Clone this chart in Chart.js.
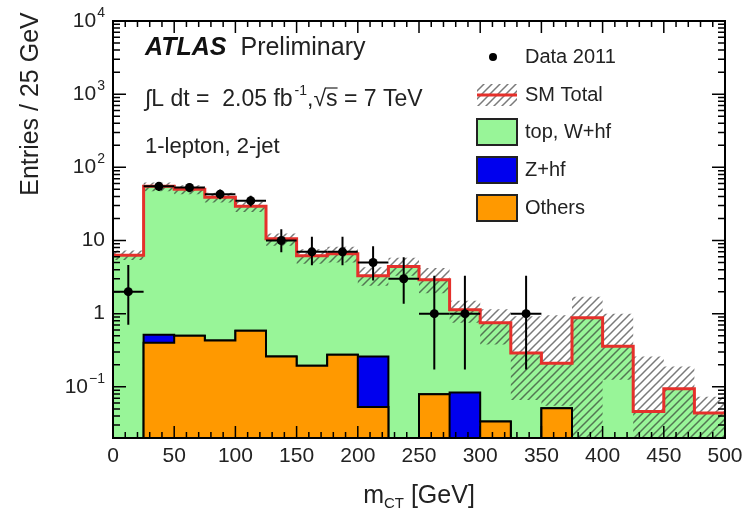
<!DOCTYPE html>
<html lang="en">
<head>
<meta charset="UTF-8">
<title>mCT distribution, 1-lepton 2-jet</title>
<script src="https://cdn.jsdelivr.net/npm/chart.js@4.4.0/dist/chart.umd.min.js"></script>
<style>
  html, body { margin: 0; padding: 0; background: #fff; }
</style>
</head>
<body>
<canvas id="chart" width="748" height="508"></canvas>
<script>
// lower edges of the 25 GeV bins
const binEdges = [0, 25, 50, 75, 100, 125, 150, 175, 200, 225, 250, 275, 300, 325, 350, 375, 400, 425, 450, 475];
const binWidth = 25;

// background components (events per bin), stacked others -> Z+hf -> top,W+hf
const others = [0, 0.40, 0.50, 0.43, 0.585, 0.26, 0.194, 0.274, 0.053, 0, 0.079, 0, 0.0335, 0, 0.051, 0, 0, 0, 0, 0];
const zHf    = [0, 0.115, 0, 0, 0, 0, 0, 0, 0.207, 0, 0, 0.084, 0, 0, 0, 0, 0, 0, 0, 0];
const topW   = [6.3, 54.5, 49.5, 38.6, 28.9, 10.3, 6.0, 6.3, 3.05, 4.4, 2.82, 1.05, 0.72, 0.29, 0.16, 0.88, 0.36, 0.046, 0.094, 0.044];

// SM total uncertainty band
const bandHigh = [7.3, 62, 57, 45, 34, 12.5, 7.6, 8.2, 4.3, 5.8, 4.2, 1.5, 1.15, 0.92, 0.95, 1.7, 1.0, 0.26, 0.19, 0.073];
const bandLow  = [5.4, 47, 43, 33, 24.5, 8.5, 4.8, 5.0, 2.4, 3.3, 1.9, 0.75, 0.38, 0.066, 0.055, 0, 0.125, 0, 0, 0];

// data 2011 with asymmetric errors
const data2011 = [2, 55, 53, 43, 35, 10, 7, 7, 5, 3, 1, 1, 0, 1, 0, 0, 0, 0, 0, 0];
const errLow   = [0.708, 47.6, 45.8, 36.5, 29.1, 6.89, 4.58, 4.58, 2.84, 1.37, 0.173, 0.173, 0, 0.173, 0, 0, 0, 0, 0, 0];
const errHigh  = [4.64, 62.4, 60.3, 49.6, 41.0, 14.3, 11.3, 11.3, 8.38, 5.92, 3.30, 3.30, 0, 3.30, 0, 0, 0, 0, 0, 0];

const xLabels = [0, 50, 100, 150, 200, 250, 300, 350, 400, 450, 500];
const xMinorStep = 10;
const yDecades = [-1, 0, 1, 2, 3, 4];

const X_MAX = 500;
const Y_MIN = 0.02;
const Y_MAX = 1e4;

const FONT = '"Liberation Sans", Arial, Helvetica, sans-serif';
const TXT = '#222';

const stackOthers = others.slice();
const stackZ = others.map((v, i) => v + zHf[i]);
const stackTotal = stackZ.map((v, i) => v + topW[i]);

// histogram outline as stepped points on the bin edges
function steps(vals) {
  const pts = binEdges.map((x, i) => ({ x: x, y: vals[i] > 0 ? vals[i] : Y_MIN }));
  pts.push({ x: X_MAX, y: pts[pts.length - 1].y });
  return pts;
}

function hatchPattern() {
  const c = document.createElement('canvas');
  c.width = 8; c.height = 8;
  const g = c.getContext('2d');
  g.strokeStyle = 'rgba(40,40,40,0.62)';
  g.lineWidth = 1.5;
  g.beginPath();
  g.moveTo(-1, 9); g.lineTo(9, -1);
  g.moveTo(-1, 1); g.lineTo(1, -1);
  g.moveTo(7, 9); g.lineTo(9, 7);
  g.stroke();
  return g.createPattern(c, 'repeat');
}
const hatch = hatchPattern();

const dataPoints = [];
data2011.forEach((n, i) => {
  if (n > 0) dataPoints.push({ x: binEdges[i] + binWidth / 2, y: n });
});

const GREEN = '#98f598';
const BLUE = '#0000ee';
const ORANGE = '#ff9900';
const RED = '#e5302b';

const decor = {
  id: 'decor',
  afterDatasetsDraw(chart) {
    const ctx = chart.ctx;
    const xs = chart.scales.x, ys = chart.scales.y;
    ctx.save();
    // data error bars
    ctx.strokeStyle = '#000';
    ctx.lineWidth = 2;
    data2011.forEach((n, i) => {
      if (!n) return;
      const cx = xs.getPixelForValue(binEdges[i] + binWidth / 2);
      const cy = ys.getPixelForValue(n);
      ctx.beginPath();
      ctx.moveTo(xs.getPixelForValue(binEdges[i]), cy);
      ctx.lineTo(xs.getPixelForValue(binEdges[i] + binWidth), cy);
      ctx.moveTo(cx, ys.getPixelForValue(errHigh[i]));
      ctx.lineTo(cx, ys.getPixelForValue(errLow[i]));
      ctx.stroke();
    });
    ctx.restore();
  },
  afterDraw(chart) {
    const ctx = chart.ctx, a = chart.chartArea;
    const xs = chart.scales.x, ys = chart.scales.y;
    ctx.save();

    // frame with inward ticks on all four sides
    ctx.strokeStyle = '#000';
    ctx.lineWidth = 2;
    ctx.strokeRect(a.left, a.top, a.right - a.left, a.bottom - a.top);
    ctx.lineWidth = 1.5;
    ctx.beginPath();
    for (let v = 0; v <= X_MAX; v += xMinorStep) {
      const px = xs.getPixelForValue(v);
      const len = xLabels.includes(v) ? 12 : 6;
      ctx.moveTo(px, a.bottom); ctx.lineTo(px, a.bottom - len);
      ctx.moveTo(px, a.top); ctx.lineTo(px, a.top + len);
    }
    for (let d = -2; d <= 4; d++) {
      for (let k = 1; k <= 9; k++) {
        const v = k * Math.pow(10, d);
        if (v < Y_MIN || v > Y_MAX) continue;
        const py = ys.getPixelForValue(v);
        const len = k === 1 ? 13 : 7;
        ctx.moveTo(a.left, py); ctx.lineTo(a.left + len, py);
        ctx.moveTo(a.right, py); ctx.lineTo(a.right - len, py);
      }
    }
    ctx.stroke();

    // x tick labels
    ctx.fillStyle = TXT;
    ctx.font = `21px ${FONT}`;
    ctx.textAlign = 'center';
    ctx.textBaseline = 'middle';
    xLabels.forEach(v => ctx.fillText(String(v), xs.getPixelForValue(v), a.bottom + 18));

    // y tick labels with superscript exponents
    yDecades.forEach(d => {
      const py = ys.getPixelForValue(Math.pow(10, d));
      const right = 105;
      if (d === 0 || d === 1) {
        ctx.font = `21px ${FONT}`;
        ctx.textAlign = 'right';
        ctx.fillText(d === 0 ? '1' : '10', right, py);
      } else {
        const sup = String(d).replace('-', '\u2212');
        ctx.font = `14px ${FONT}`;
        const sw = ctx.measureText(sup).width;
        ctx.textAlign = 'left';
        ctx.fillText(sup, right - sw, py - 8);
        ctx.font = `21px ${FONT}`;
        ctx.textAlign = 'right';
        ctx.fillText('10', right - sw - 1, py);
      }
    });

    // axis titles
    ctx.font = `25px ${FONT}`;
    ctx.textBaseline = 'alphabetic';
    ctx.save();
    ctx.translate(38, 104);
    ctx.rotate(-Math.PI / 2);
    ctx.textAlign = 'center';
    ctx.fillText('Entries / 25 GeV', 0, 0);
    ctx.restore();

    ctx.textAlign = 'left';
    ctx.font = `25px ${FONT}`;
    const wm = ctx.measureText('m').width;
    const wg = ctx.measureText(' [GeV]').width;
    ctx.font = `15px ${FONT}`;
    const wct = ctx.measureText('CT').width;
    let tx = (a.left + a.right) / 2 - (wm + wct + wg) / 2;
    const ty = 503;
    ctx.font = `25px ${FONT}`;
    ctx.fillText('m', tx, ty); tx += wm;
    ctx.font = `15px ${FONT}`;
    ctx.fillText('CT', tx, ty + 5); tx += wct;
    ctx.font = `25px ${FONT}`;
    ctx.fillText(' [GeV]', tx, ty);

    // ATLAS label and run conditions
    ctx.textBaseline = 'middle';
    ctx.font = `italic bold 25px ${FONT}`;
    ctx.fillStyle = '#111';
    ctx.fillText('ATLAS', 145, 48);
    const wa = ctx.measureText('ATLAS').width;
    ctx.fillStyle = TXT;
    ctx.font = `25px ${FONT}`;
    ctx.fillText('Preliminary', 145 + wa + 14, 48);

    let lx = 145;
    const ly = 100;
    ctx.font = `23px ${FONT}`;
    const p1 = '\u222BL dt =  2.05 fb';
    ctx.fillText(p1, lx, ly); lx += ctx.measureText(p1).width + 2;
    ctx.font = `14px ${FONT}`;
    ctx.fillText('-1', lx, ly - 9); lx += ctx.measureText('-1').width;
    ctx.font = `23px ${FONT}`;
    ctx.fillText(',', lx, ly); lx += ctx.measureText(',').width;
    ctx.fillText('\u221A', lx, ly); lx += ctx.measureText('\u221A').width;
    const sw = ctx.measureText('s').width;
    ctx.fillText('s', lx, ly);
    ctx.lineWidth = 1.2;
    ctx.strokeStyle = TXT;
    ctx.beginPath(); ctx.moveTo(lx - 1, ly - 12); ctx.lineTo(lx + sw, ly - 12); ctx.stroke();
    lx += sw;
    ctx.fillText(' = 7 TeV', lx, ly);

    ctx.font = `22px ${FONT}`;
    ctx.fillText('1-lepton, 2-jet', 145, 147);

    // legend
    const bx = 477, bw = 40, tx0 = 525;
    ctx.font = `20px ${FONT}`;
    ctx.fillStyle = '#000';
    ctx.beginPath(); ctx.arc(493, 57, 4, 0, Math.PI * 2); ctx.fill();
    ctx.fillStyle = TXT;
    ctx.fillText('Data 2011', tx0, 57);

    ctx.fillStyle = hatch;
    ctx.fillRect(bx, 84, bw, 22);
    ctx.strokeStyle = RED; ctx.lineWidth = 3;
    ctx.beginPath(); ctx.moveTo(bx, 95); ctx.lineTo(bx + bw, 95); ctx.stroke();
    ctx.fillStyle = TXT;
    ctx.fillText('SM Total', tx0, 95);

    const boxes = [[GREEN, 'top, W+hf', 132], [BLUE, 'Z+hf', 170], [ORANGE, 'Others', 208]];
    boxes.forEach(([col, label, cy]) => {
      ctx.fillStyle = col;
      ctx.fillRect(bx, cy - 13, bw, 26);
      ctx.strokeStyle = '#222'; ctx.lineWidth = 2;
      ctx.strokeRect(bx, cy - 13, bw, 26);
      ctx.fillStyle = TXT;
      ctx.fillText(label, tx0, cy);
    });

    ctx.restore();
  }
};

new Chart(document.getElementById('chart'), {
  type: 'line',
  data: {
    datasets: [
      {
        label: 'Data 2011', data: dataPoints, showLine: false, order: 1,
        pointRadius: 4.5, pointStyle: 'circle', backgroundColor: '#000', borderColor: '#000', borderWidth: 0
      },
      {
        label: 'SM Total', data: steps(stackTotal), order: 2, stepped: 'before',
        borderColor: RED, borderWidth: 3, pointRadius: 0, fill: false
      },
      {
        label: 'Others', data: steps(stackOthers), order: 3, stepped: 'before',
        borderColor: '#000', borderWidth: 2, backgroundColor: ORANGE, pointRadius: 0, fill: 'start'
      },
      {
        label: 'Z+hf', data: steps(stackZ), order: 4, stepped: 'before',
        borderColor: '#000', borderWidth: 2, backgroundColor: BLUE, pointRadius: 0, fill: 'start'
      },
      {
        label: 'SM uncertainty', data: steps(bandHigh), order: 5, stepped: 'before',
        borderColor: 'rgba(0,0,0,0)', borderWidth: 0, backgroundColor: hatch, pointRadius: 0, fill: 5
      },
      {
        label: 'SM uncertainty low', data: steps(bandLow), order: 6, stepped: 'before',
        borderColor: 'rgba(0,0,0,0)', borderWidth: 0, pointRadius: 0, fill: false
      },
      {
        label: 'top, W+hf', data: steps(stackTotal), order: 7, stepped: 'before',
        borderColor: 'rgba(0,0,0,0)', borderWidth: 0, backgroundColor: GREEN, pointRadius: 0, fill: 'start'
      }
    ]
  },
  options: {
    responsive: false,
    animation: false,
    events: [],
    layout: { padding: { left: 113, right: 23, top: 21, bottom: 70 } },
    plugins: { legend: { display: false }, tooltip: { enabled: false } },
    scales: {
      x: { type: 'linear', min: 0, max: X_MAX, display: false },
      y: { type: 'logarithmic', min: Y_MIN, max: Y_MAX, display: false }
    }
  },
  plugins: [decor]
});
</script>
</body>
</html>
